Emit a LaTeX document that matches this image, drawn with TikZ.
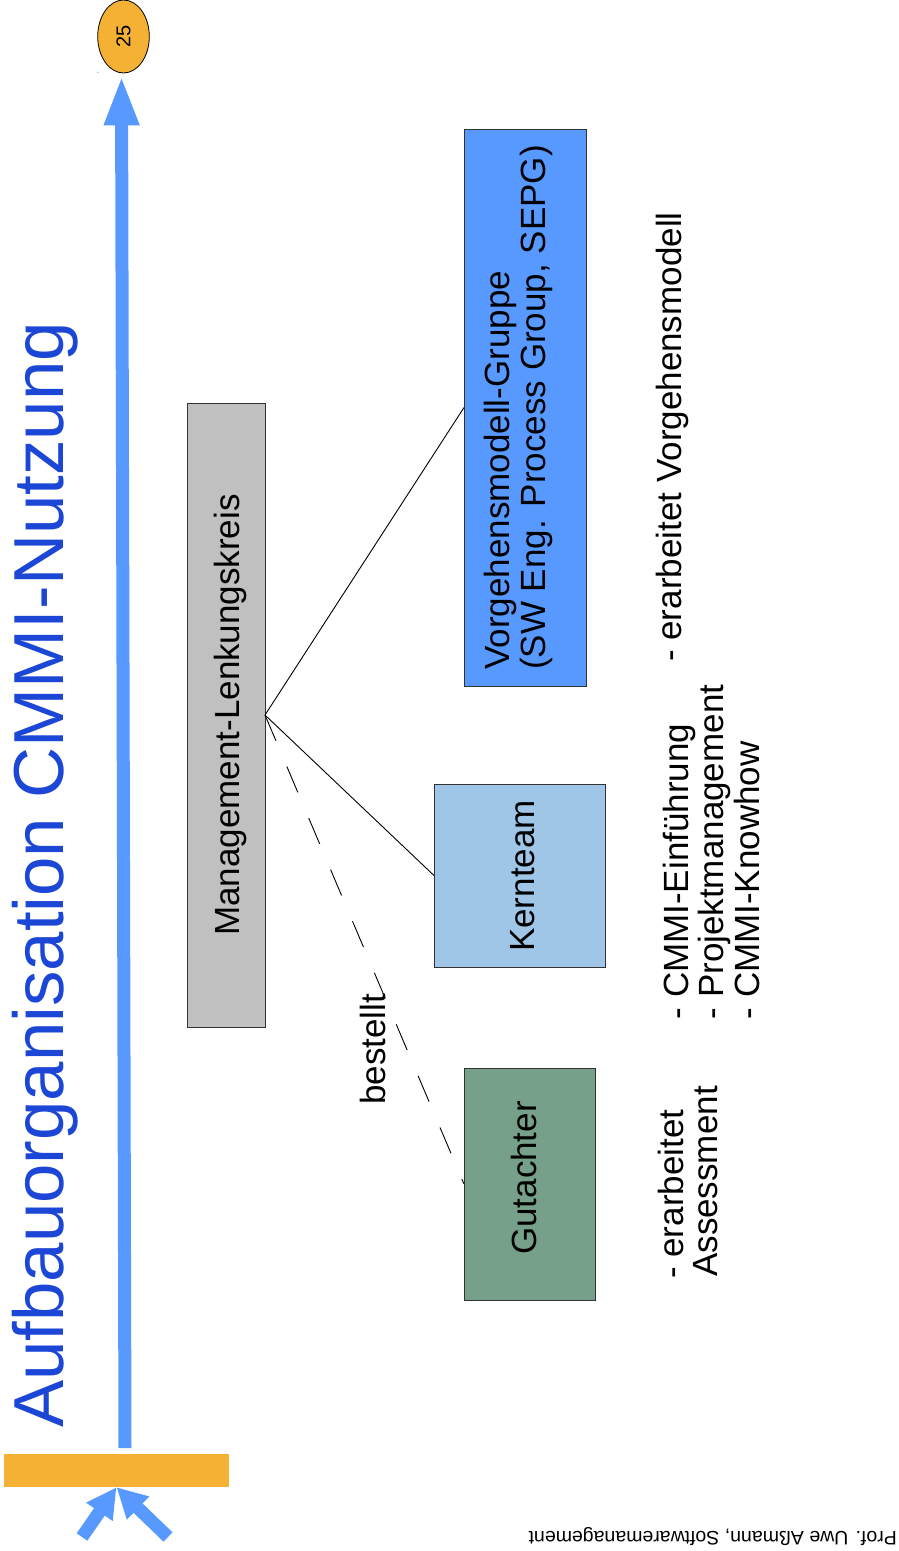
\documentclass[tikz,border=0pt]{standalone}
\usepackage{fontspec}
\setmainfont{Liberation Sans}
\usetikzlibrary{arrows.meta,calc,shapes.geometric}

\definecolor{barorange}{RGB}{245,177,51}
\definecolor{axisblue}{RGB}{87,153,255}
\definecolor{titleblue}{RGB}{28,70,214}
\definecolor{mgrey}{RGB}{192,192,192}
\definecolor{sepgblue}{RGB}{87,153,255}
\definecolor{coreblue}{RGB}{159,198,231}
\definecolor{expertgreen}{RGB}{119,160,138}
\definecolor{boxline}{RGB}{50,50,50}

\begin{document}
\begin{tikzpicture}[x=1pt,y=-1pt,
  box/.style={draw=boxline, line width=1pt, inner sep=0pt, outer sep=0pt},
  rtext/.style={rotate=90, inner sep=0pt, anchor=base west,
                font=\fontsize{35}{36}\selectfont},
  ctext/.style={rotate=90, inner sep=0pt, anchor=base,
                font=\fontsize{35}{36}\selectfont},
  link/.style={draw=black, line width=0.9pt},
  fatarrow/.style={draw=axisblue, line width=13pt,
                   -{Triangle[length=30pt,width=30pt]}},
]
\useasboundingbox (0,0) rectangle (899,1551);

% time axis with start bar and page marker
\node[fill=barorange, inner sep=0pt, minimum width=225pt, minimum height=33pt]
  (bar) at (116.5,1470.5) {};
\node[ellipse, draw=black, line width=0.8pt, fill=barorange, inner sep=0pt,
  minimum width=51.6pt, minimum height=73pt] (page) at (123.5,36.5) {};
\node[rotate=90, inner sep=0pt, font=\fontsize{20}{22}\selectfont]
  (pagenum) at (page.center) {25};
\fill[gray!60] (97.7,72.3) circle (0.8pt);

\coordinate (axisfoot) at (125,1448);
\draw[draw=axisblue, line width=13pt, -{Triangle[length=50pt,width=32pt]}]
  (axisfoot) -- ($(page.south)+(-2,2)$);

\coordinate (inleft) at (82,1537);
\coordinate (inright) at (168,1537);
\draw[fatarrow] (inleft) -- (bar.south);
\draw[fatarrow] (inright) -- (bar.south);

% title
\node[rtext, font=\fontsize{70.8}{80}\selectfont, text=titleblue]
  (title) at (63,1428) {Aufbauorganisation CMMI-Nutzung};

% organisation boxes
\node[box, fill=mgrey, minimum width=78pt, minimum height=624pt]
  (mlk) at (226,715) {};
\node[box, fill=sepgblue, minimum width=122pt, minimum height=557pt]
  (vg) at (525,407.5) {};
\node[box, fill=coreblue, minimum width=171pt, minimum height=183pt]
  (kt) at (519.5,875.5) {};
\node[box, fill=expertgreen, minimum width=131pt, minimum height=232pt]
  (ga) at (529.5,1184) {};

\node[ctext] (mlktext) at (239,715) {Management-Lenkungskreis};
\node[rtext] (vgline1) at (509,670) {Vorgehensmodell-Gruppe};
\node[rtext] (vgline2) at (545,670) {(SW Eng. Process Group, SEPG)};
\node[ctext] (kttext) at (534,876) {Kernteam};
\node[ctext] (gatext) at (536,1178) {Gutachter};

% connectors
\draw[link] (mlk.east) -- (vg.west);
\draw[link] (mlk.east) -- (kt.west);
\draw[link, dash pattern=on 28pt off 28pt] (mlk.east) -- (ga.west);
\node[rtext] (order) at (385,1105) {bestellt};

% task descriptions
\node[rtext] (vgtask) at (681,662) {- erarbeitet Vorgehensmodell};
\node[rtext] (kttask1) at (688,1019.5) {- CMMI-Einführung};
\node[rtext] (kttask2) at (723,1019.5) {- Projektmanagement};
\node[rtext] (kttask3) at (759,1019.5) {- CMMI-Knowhow};
\node[rtext] (gatask1) at (683,1279) {- erarbeitet};
\node[rtext] (gatask2) at (717,1277) {Assessment};

% footer
\node[rotate=180, anchor=base west, inner sep=0pt,
  font=\fontsize{19.5}{22}\selectfont] (footer) at (897,1531)
  {Prof. Uwe Aßmann, Softwaremanagement};
\end{tikzpicture}
\end{document}
